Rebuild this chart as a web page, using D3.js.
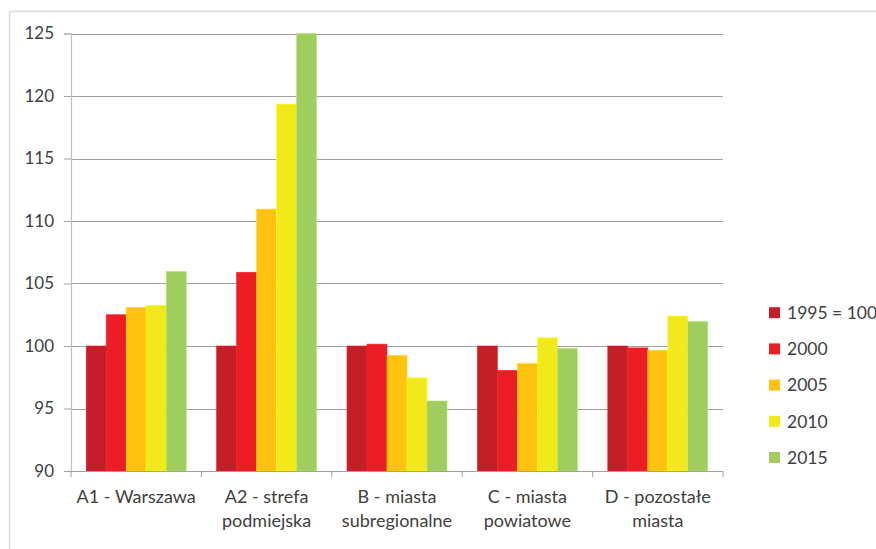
<!DOCTYPE html>
<html>
<head>
<meta charset="utf-8">
<script src="https://cdn.jsdelivr.net/npm/d3@7"></script>
<style>
  html, body { margin: 0; padding: 0; background: #fff; }
  svg { display: block; }
  text { font-family: Lato, "Open Sans", sans-serif; fill: #404040; }
</style>
</head>
<body>
<svg id="chart" width="876" height="549"></svg>
<script>
// Index of change, 1995 = 100
const categories = [
  ["A1 - Warszawa"],
  ["A2 - strefa", "podmiejska"],
  ["B - miasta", "subregionalne"],
  ["C - miasta", "powiatowe"],
  ["D - pozostałe", "miasta"]
];
const seriesNames = ["1995 = 100", "2000", "2005", "2010", "2015"];
const v1995 = [100, 100, 100, 100, 100];
const v2000 = [102.5, 105.9, 100.15, 98.05, 99.85];
const v2005 = [103.1, 110.95, 99.25, 98.6, 99.65];
const v2010 = [103.25, 119.35, 97.45, 100.65, 102.4];
const v2015 = [105.95, 125, 95.6, 99.8, 101.95];
const yTicks = [90, 95, 100, 105, 110, 115, 120, 125];
const colors = ["#C41F28", "#ED1D25", "#FFC20F", "#F2E91A", "#9FCD5E"];

const seriesValues = [v1995, v2000, v2005, v2010, v2015];

const svg = d3.select("#chart");

// outer chart frame
svg.append("rect")
  .attr("x", 9.5).attr("y", 11.5)
  .attr("width", 900).attr("height", 600)
  .attr("fill", "none").attr("stroke", "#d9d9d9").attr("stroke-width", 1.5);

const plot = { left: 71, right: 723, top: 33.5, bottom: 471 };

const x = d3.scaleBand()
  .domain(d3.range(categories.length))
  .range([plot.left, plot.right])
  .paddingInner(0.233)
  .paddingOuter(0.1165);

const x1 = d3.scaleBand()
  .domain(d3.range(seriesNames.length))
  .range([0, x.bandwidth()]);

const y = d3.scaleLinear().domain([90, 125]).range([plot.bottom, plot.top]);

// horizontal gridlines
svg.append("g")
  .selectAll("line")
  .data(yTicks.filter(t => t > 90))
  .join("line")
  .attr("x1", plot.left).attr("x2", plot.right)
  .attr("y1", d => Math.round(y(d)) + 0.5).attr("y2", d => Math.round(y(d)) + 0.5)
  .attr("stroke", "#a0a0a0").attr("stroke-width", 1.2);

// bars
const groups = svg.append("g")
  .selectAll("g")
  .data(categories.map((c, i) => i))
  .join("g")
  .attr("transform", i => `translate(${x(i)},0)`);

groups.selectAll("rect")
  .data(i => seriesValues.map((vals, s) => ({ s, v: vals[i] })))
  .join("rect")
  .attr("x", d => x1(d.s))
  .attr("width", x1.bandwidth())
  .attr("y", d => y(d.v))
  .attr("height", d => y(90) - y(d.v))
  .attr("fill", d => colors[d.s])
  .attr("stroke", d => d3.color(colors[d.s]).brighter(0.35))
  .attr("stroke-width", 0.6);

// y axis
const yAxis = d3.axisLeft(y).tickValues(yTicks).tickSize(7).tickPadding(10);
const gy = svg.append("g").attr("transform", `translate(${plot.left},0)`).call(yAxis);
gy.select(".domain").attr("stroke", "#c0c0c0").attr("stroke-width", 1.2);
gy.selectAll(".tick line").attr("stroke", "#a0a0a0");
gy.selectAll(".tick text")
  .style("font-family", "Lato, sans-serif").style("font-size", "17px").attr("fill", "#404040");

// x axis with boundary ticks
svg.append("line")
  .attr("x1", plot.left).attr("x2", plot.right)
  .attr("y1", plot.bottom + 0.5).attr("y2", plot.bottom + 0.5)
  .attr("stroke", "#a0a0a0").attr("stroke-width", 1.2);
const step = x.step();
svg.append("g")
  .selectAll("line")
  .data(d3.range(categories.length + 1))
  .join("line")
  .attr("x1", i => plot.left + i * step).attr("x2", i => plot.left + i * step)
  .attr("y1", plot.bottom).attr("y2", plot.bottom + 6)
  .attr("stroke", "#a0a0a0").attr("stroke-width", 1);

svg.append("g")
  .selectAll("text")
  .data(categories)
  .join("text")
  .attr("x", (c, i) => x(i) + x.bandwidth() / 2)
  .attr("y", 503)
  .attr("text-anchor", "middle")
  .style("font-size", "18px")
  .selectAll("tspan")
  .data(c => c)
  .join("tspan")
  .attr("x", function () { return this.parentNode.getAttribute("x"); })
  .attr("dy", (d, k) => k === 0 ? 0 : 24)
  .text(d => d);

// legend
const legend = svg.append("g")
  .selectAll("g")
  .data(seriesNames)
  .join("g")
  .attr("transform", (d, i) => `translate(769,${312.7 + i * 36.2})`);
legend.append("rect")
  .attr("x", 0).attr("y", -5.5).attr("width", 11).attr("height", 11)
  .attr("fill", (d, i) => colors[i]);
legend.append("text")
  .attr("x", 18).attr("y", 0).attr("dy", "0.36em")
  .style("font-size", "17.5px")
  .text(d => d);
</script>
</body>
</html>
